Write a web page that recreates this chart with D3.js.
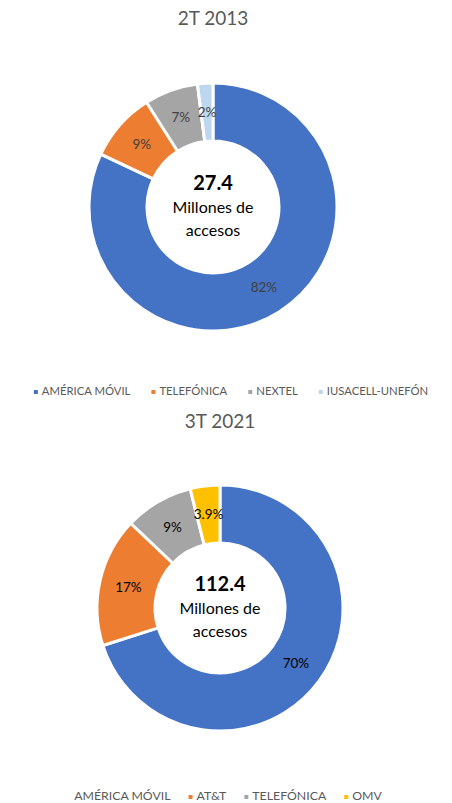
<!DOCTYPE html>
<html>
<head>
<meta charset="utf-8">
<script src="https://cdn.jsdelivr.net/npm/d3@7"></script>
<style>
  body { margin: 0; background: #fff; }
  text { font-family: Lato, "Open Sans", sans-serif; }
</style>
</head>
<body>
<script>
"use strict";

// 2T 2013
var categories2013 = ["AMÉRICA MÓVIL", "TELEFÓNICA", "NEXTEL", "IUSACELL-UNEFÓN"];
var values2013 = [82, 9, 7, 2];
var labels2013 = ["82%", "9%", "7%", "2%"];
var colors2013 = ["#4472C4", "#ED7D31", "#A5A5A5", "#BDD7EE"];

// 3T 2021
var categories2021 = ["AMÉRICA MÓVIL", "AT&T", "TELEFÓNICA", "OMV"];
var values2021 = [70, 17, 9, 3.9];
var labels2021 = ["70%", "17%", "9%", "3.9%"];
var colors2021 = ["#4472C4", "#ED7D31", "#A5A5A5", "#FFC000"];

var width = 452, height = 803;

var svg = d3.select("body").append("svg")
    .attr("width", width)
    .attr("height", height);

function drawDonut(opts) {
    var g = svg.append("g");

    g.append("text")
        .attr("x", opts.cx)
        .attr("y", opts.titleY)
        .attr("text-anchor", "middle")
        .style("font-size", "19px")
        .style("fill", "#595959")
        .text(opts.title);

    var pie = d3.pie().sort(null).value(function (d) { return d; });
    var arcs = pie(opts.values);
    var arc = d3.arc().innerRadius(opts.inner).outerRadius(opts.outer);
    var mid = d3.arc().innerRadius((opts.inner + opts.outer) / 2).outerRadius((opts.inner + opts.outer) / 2);

    var chart = g.append("g").attr("transform", "translate(" + opts.cx + "," + opts.cy + ")");

    chart.selectAll("path")
        .data(arcs)
        .enter()
          .append("path")
          .attr("d", arc)
          .style("fill", function (d, i) { return opts.colors[i]; })
          .style("stroke", "#fff")
          .style("stroke-width", 3);

    chart.selectAll(".lbl")
        .data(arcs)
        .enter()
          .append("text")
          .attr("class", "lbl")
          .attr("transform", function (d) { return "translate(" + mid.centroid(d) + ")"; })
          .attr("text-anchor", "middle")
          .attr("dy", "0.35em")
          .style("font-size", "13.5px")
          .style("fill", opts.labelColor)
          .text(function (d, i) { return opts.labels[i]; });

    chart.append("text")
        .attr("y", -24)
        .attr("dy", "0.35em")
        .attr("text-anchor", "middle")
        .style("font-size", "20px")
        .style("font-weight", "bold")
        .style("fill", "#000")
        .text(opts.total);
    chart.append("text")
        .attr("y", 0)
        .attr("dy", "0.35em")
        .attr("text-anchor", "middle")
        .style("font-size", "16px")
        .style("fill", "#000")
        .text("Millones de");
    chart.append("text")
        .attr("y", 23)
        .attr("dy", "0.35em")
        .attr("text-anchor", "middle")
        .style("font-size", "16px")
        .style("fill", "#000")
        .text("accesos");

    // legend
    var leg = g.append("g");
    var x = 0;
    var gap = opts.legendGap;
    opts.categories.forEach(function (c, i) {
        var item = leg.append("g").attr("transform", "translate(" + x + ",0)");
        if (!(opts.hideFirstMarker && i === 0)) {
            item.append("rect")
                .attr("x", 0).attr("y", -5)
                .attr("width", 4).attr("height", 4)
                .style("fill", opts.colors[i]);
        }
        var t = item.append("text")
            .attr("x", 8)
            .attr("y", 0)
            .style("font-size", opts.legendSize)
            .style("fill", "#595959")
            .text(c);
        x += 8 + t.node().getComputedTextLength() + gap;
    });
    x -= gap;
    leg.attr("transform", "translate(" + (opts.legendCx - x / 2) + "," + opts.legendY + ")");
}

drawDonut({
    title: "2T 2013", titleY: 25,
    cx: 213, cy: 207, inner: 66, outer: 124,
    values: values2013, labels: labels2013, colors: colors2013,
    categories: categories2013, labelColor: "#404040",
    total: "27.4",
    legendCx: 231, legendY: 395, legendSize: "11.3px", legendGap: 21
});

drawDonut({
    title: "3T 2021", titleY: 428,
    cx: 220, cy: 608, inner: 65, outer: 123,
    values: values2021, labels: labels2021, colors: colors2021,
    categories: categories2021, labelColor: "#000",
    total: "112.4", hideFirstMarker: true,
    legendCx: 224, legendY: 800, legendSize: "12.3px", legendGap: 18
});
</script>
</body>
</html>
